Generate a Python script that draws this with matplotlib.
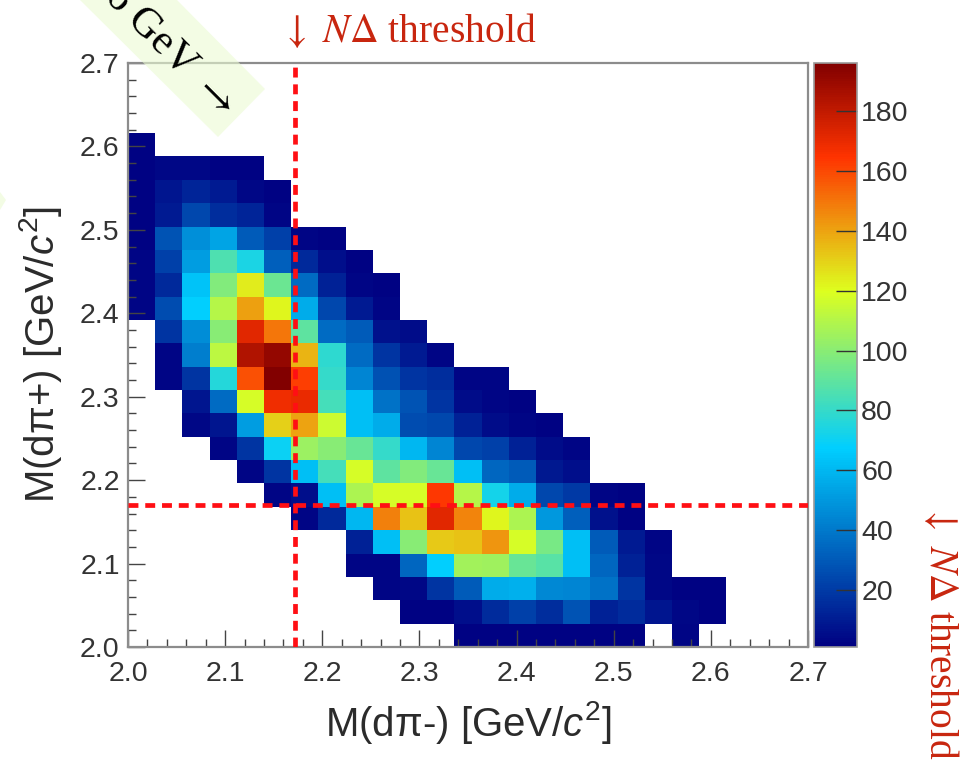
import numpy as np
import matplotlib
matplotlib.use('Agg')
import matplotlib.pyplot as plt
from matplotlib.colors import LinearSegmentedColormap, Normalize
from matplotlib.patches import Polygon
from matplotlib.ticker import MultipleLocator

plt.rcParams['font.family'] = ['Liberation Sans', 'DejaVu Sans']
plt.rcParams['mathtext.fontset'] = 'custom'
plt.rcParams['mathtext.rm'] = 'Liberation Sans'
plt.rcParams['mathtext.it'] = 'Liberation Sans:italic'

threshold_x = 2.172
threshold_y = 2.17
n_bins = 25

# rows from the top of the plot, first_col = first filled bin of the row
first_col = {3: 0, 4: 0, 5: 0, 6: 0, 7: 0, 8: 0, 9: 0, 10: 0, 11: 1, 12: 1, 13: 1,
             14: 2, 15: 2, 16: 3, 17: 4, 18: 5, 19: 6, 20: 8, 21: 8, 22: 9, 23: 10, 24: 12}
row_03 = [2]
row_04 = [2, 4, 4, 2, 2]
row_05 = [2, 8, 13, 10, 4, 2]
row_06 = [2, 10, 24, 16, 13, 3]
row_07 = [2, 28, 47, 54, 30, 22, 3, 2]
row_08 = [3, 22, 52, 86, 74, 32, 14, 6, 2]
row_09 = [3, 14, 64, 98, 124, 93, 36, 12, 3, 2]
row_10 = [3, 26, 68, 110, 141, 122, 56, 24, 10, 3]
row_11 = [18, 46, 100, 172, 150, 90, 36, 30, 7, 5]
row_12 = [3, 42, 112, 184, 191, 136, 78, 36, 18, 10, 3]
row_13 = [3, 18, 76, 158, 196, 162, 80, 44, 27, 18, 16, 3, 3]
row_14 = [8, 36, 118, 168, 170, 84, 62, 38, 28, 18, 5, 3, 2]
row_15 = [4, 8, 52, 130, 140, 116, 62, 56, 26, 24, 12, 5, 3, 2]
row_16 = [3, 18, 70, 104, 100, 92, 80, 60, 44, 24, 22, 12, 5, 3]
row_17 = [3, 18, 62, 84, 118, 90, 98, 92, 62, 34, 30, 9, 6]
row_18 = [3, 6, 62, 108, 118, 118, 164, 110, 72, 56, 24, 20, 3, 2]
row_19 = [3, 14, 60, 148, 133, 172, 147, 122, 108, 50, 32, 7, 2]
row_20 = [12, 62, 100, 132, 133, 143, 118, 96, 62, 30, 10, 3]
row_21 = [3, 3, 34, 68, 106, 105, 92, 88, 62, 34, 12, 4]
row_22 = [3, 4, 18, 30, 56, 58, 45, 44, 38, 18, 4, 2, 2]
row_23 = [2, 2, 6, 15, 22, 16, 28, 12, 15, 8, 4, 2]
row_24 = [2, 2, 2, 2, 2, 2, 2, 0, 3]

rows = {3: row_03, 4: row_04, 5: row_05, 6: row_06, 7: row_07, 8: row_08, 9: row_09,
        10: row_10, 11: row_11, 12: row_12, 13: row_13, 14: row_14, 15: row_15, 16: row_16,
        17: row_17, 18: row_18, 19: row_19, 20: row_20, 21: row_21, 22: row_22, 23: row_23,
        24: row_24}

counts = np.full((n_bins, n_bins), np.nan)
for j, vals in rows.items():
    for k, v in enumerate(vals):
        if v > 0:
            counts[j, first_col[j] + k] = v

# ROOT rainbow palette
stops = [0.0, 0.34, 0.61, 0.84, 1.0]
reds = [0.0, 0.0, 0.87, 1.0, 0.51]
greens = [0.0, 0.81, 1.0, 0.2, 0.0]
blues = [0.51, 1.0, 0.12, 0.0, 0.0]
cmap = LinearSegmentedColormap.from_list('root', list(zip(stops, zip(reds, greens, blues))), N=256)
norm = Normalize(vmin=1, vmax=196)

W, H = 963, 761
fig = plt.figure(figsize=(W / 100, H / 100), dpi=100)


def box(x0, y0, x1, y1):
    return [x0 / W, 1 - y1 / H, (x1 - x0) / W, (y1 - y0) / H]


ax = fig.add_axes(box(128, 63, 808, 647))
x_edges = np.linspace(2.0, 2.7, n_bins + 1)
y_edges = np.linspace(2.7, 2.0, n_bins + 1)
mesh = ax.pcolormesh(x_edges, y_edges, counts, cmap=cmap, norm=norm)
ax.set_xlim(2.0, 2.7)
ax.set_ylim(2.0, 2.7)
ax.xaxis.set_major_locator(MultipleLocator(0.1))
ax.yaxis.set_major_locator(MultipleLocator(0.1))
ax.xaxis.set_minor_locator(MultipleLocator(0.02))
ax.yaxis.set_minor_locator(MultipleLocator(0.02))
ax.tick_params(which='major', direction='in', length=12, width=1, color='#444444',
               labelsize=20.5, labelcolor='#333333')
ax.tick_params(axis='x', which='major', pad=10)
ax.tick_params(axis='y', which='major', pad=6)
ax.tick_params(which='minor', direction='in', length=6, width=1, color='#444444')
for s in ax.spines.values():
    s.set_color('#8c8c8c')
    s.set_linewidth(1.6)

ax.axvline(threshold_x, color='#ff0f14', lw=3.4, ls=(0, (2.1, 1.45)), zorder=3)
ax.axhline(threshold_y, color='#ff0f14', lw=3.4, ls=(0, (2.1, 1.45)), zorder=3)

cax = fig.add_axes(box(814, 63, 857, 647))
cb = fig.colorbar(mesh, cax=cax)
cb.set_ticks(np.arange(20, 181, 20))
cb.ax.tick_params(direction='in', length=15, width=1, color='#333333', labelsize=20.5,
                  labelcolor='#333333', pad=3)
cb.outline.set_edgecolor('#9a9a9a')
cb.outline.set_linewidth(1.2)

label_col = '#2b2b2b'
fig.text(468 / W, 1 - 722 / H, r'M(dπ-) [GeV/$\mathit{c}^{2}$]', fontsize=29,
         ha='center', va='center', color=label_col)
fig.text(41 / W, 1 - 354 / H, r'M(dπ+) [GeV/$\mathit{c}^{2}$]', fontsize=29,
         ha='center', va='center', rotation=90, color=label_col)

red_txt = '#c8260f'
fig.text(281 / W, 1 - 31 / H, r'$\downarrow$ $\mathit{N}\Delta$ threshold', fontsize=28.5,
         ha='left', va='center', color=red_txt, family='Liberation Serif', math_fontfamily='stix')
fig.text(940 / W, 1 - 632 / H, r'$\downarrow$ $\mathit{N}\Delta$ threshold', fontsize=28.5,
         ha='center', va='center', rotation=-90, color=red_txt, family='Liberation Serif',
         math_fontfamily='stix')

# green banner running off the top left corner
band_px = [(80, 0), (177, 0), (265, 89), (218, 137)]
band = Polygon([(x / W, 1 - y / H) for x, y in band_px], closed=True, transform=fig.transFigure,
               facecolor='#ebfbd3', edgecolor='none', alpha=0.6, zorder=5)
fig.add_artist(band)
corner_px = [(0, 192), (6, 200), (0, 210)]
fig.add_artist(Polygon([(x / W, 1 - y / H) for x, y in corner_px], closed=True,
                       transform=fig.transFigure, facecolor='#ebfbd3', edgecolor='none',
                       alpha=0.6, zorder=5))
fig.text(170 / W, 1 - 50 / H, r'6 GeV $\rightarrow$', fontsize=31, rotation=-45, ha='center',
         va='center', rotation_mode='anchor', color='black', family='Liberation Serif',
         math_fontfamily='stix', zorder=6)

fig.savefig('out.png', dpi=100)
